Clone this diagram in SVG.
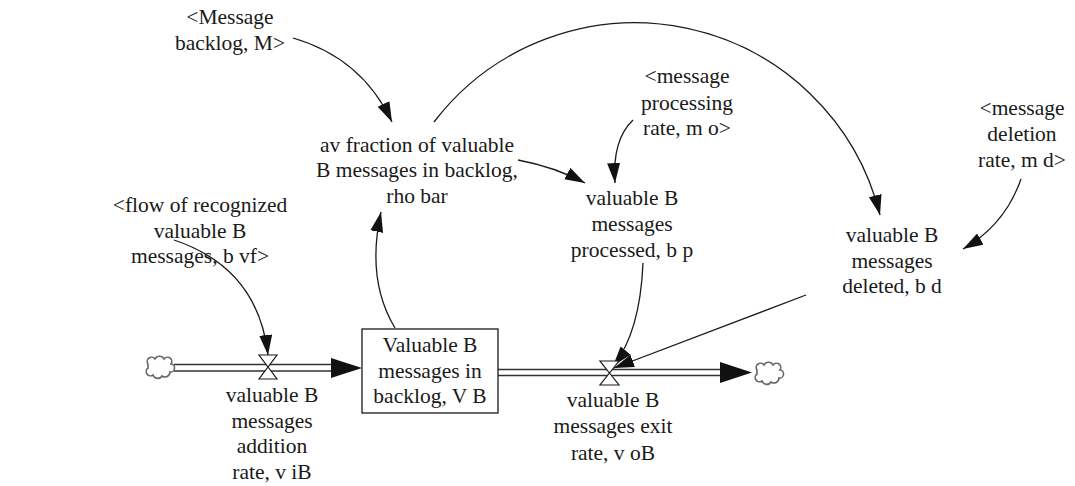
<svg xmlns="http://www.w3.org/2000/svg" width="1075" height="486" viewBox="0 0 1075 486">
  <style>
    .lbl { font-family: "Liberation Serif", "DejaVu Serif", serif; font-size: 21.5px; fill: #1a1a1a; text-anchor: middle; }
    .link { fill: none; stroke: #1a1a1a; stroke-width: 1.3; marker-end: url(#head); }
    .pipe { fill: none; stroke: #333; stroke-width: 1.6; }
    .valve { fill: #fff; stroke: #1a1a1a; stroke-width: 1.2; }
    .cloud { fill: #fff; stroke: #666; stroke-width: 1.6; }
    .stock { fill: #fff; stroke: #1a1a1a; stroke-width: 1.3; }
    .tip { fill: #111; }
  </style>
  <defs>
    <marker id="head" markerUnits="userSpaceOnUse" markerWidth="21" markerHeight="14" refX="20" refY="6.5" orient="auto">
      <path d="M0,0 L20,6.5 L0,13 z" fill="#111"/>
    </marker>
    <path id="cloudShape" d="M-11,-4 a4,4 0 0 1 7,-5 a5,5 0 0 1 9,0 a4,4 0 0 1 7,5 a4,4 0 0 1 -1,8 a5,5 0 0 1 -8,4 a5,5 0 0 1 -9,-1 a4,4 0 0 1 -5,-7 z"/>
  </defs>

  <rect width="1075" height="486" fill="#fff"/>

  <!-- flow pipes -->
  <g id="pipes">
    <line class="pipe" x1="174" y1="364.5" x2="340" y2="364.5"/>
    <line class="pipe" x1="174" y1="371" x2="340" y2="371"/>
    <path class="tip" d="M331,358 L362,368 L331,378 z"/>
    <line class="pipe" x1="498" y1="369.5" x2="728" y2="369.5"/>
    <line class="pipe" x1="498" y1="375.5" x2="728" y2="375.5"/>
    <path class="tip" d="M720,362 L752,372.5 L720,383 z"/>
  </g>

  <!-- connectors -->
  <g id="connectors">
    <path class="link" d="M293,38 Q362,58 392,122"/>
    <path class="link" d="M434,122 A252.7,252.7 0 0 1 880,215"/>
    <path class="link" d="M518,160 Q555,167 585,183"/>
    <path class="link" d="M633,120 Q612,140 615,183"/>
    <path class="link" d="M1021,179 Q1005,225 963,249"/>
    <path class="link" d="M806,295 L614,368"/>
    <path class="link" d="M643,263 Q640,333 613,366"/>
    <path class="link" d="M395,328 Q366,280 381,212"/>
    <path class="link" d="M174,240 Q258,268 268,355"/>
  </g>

  <!-- sources and sinks -->
  <g id="cloud-in"><use href="#cloudShape" class="cloud" transform="translate(159,368)"/></g>
  <g id="cloud-out"><use href="#cloudShape" class="cloud" transform="translate(768,374)"/></g>

  <g class="lbl" font-family="Liberation Serif, DejaVu Serif, serif">
    <!-- stock -->
    <g id="stock-vb">
      <rect class="stock" x="362" y="329" width="136" height="84"/>
      <text x="430" y="352">Valuable B</text>
      <text x="430" y="378">messages in</text>
      <text x="430" y="403">backlog, V B</text>
    </g>

    <!-- inflow -->
    <g id="flow-addition">
      <path class="valve" d="M259,355 L277,355 L268,367 z M268,367 L277,379 L259,379 z"/>
      <text x="272" y="402">valuable B</text>
      <text x="272" y="428">messages</text>
      <text x="272" y="453">addition</text>
      <text x="272" y="479">rate, v iB</text>
    </g>

    <!-- outflow -->
    <g id="flow-exit">
      <path class="valve" d="M600,361 L619,361 L609.5,373 z M609.5,373 L619,385 L600,385 z"/>
      <text x="613" y="407">valuable B</text>
      <text x="613" y="433">messages exit</text>
      <text x="613" y="460">rate, v oB</text>
    </g>

    <!-- auxiliaries -->
    <g id="aux-message-backlog">
      <text x="230" y="24">&lt;Message</text>
      <text x="230" y="50">backlog, M&gt;</text>
    </g>

    <g id="aux-rho-bar">
      <text x="417" y="152">av fraction of valuable</text>
      <text x="417" y="177">B messages in backlog,</text>
      <text x="417" y="203">rho bar</text>
    </g>

    <g id="aux-processing-rate">
      <text x="687" y="83">&lt;message</text>
      <text x="687" y="110">processing</text>
      <text x="687" y="135">rate, m o&gt;</text>
    </g>

    <g id="aux-processed">
      <text x="632" y="205">valuable B</text>
      <text x="632" y="231">messages</text>
      <text x="632" y="257">processed, b p</text>
    </g>

    <g id="aux-deletion-rate">
      <text x="1022" y="115">&lt;message</text>
      <text x="1022" y="141">deletion</text>
      <text x="1022" y="167">rate, m d&gt;</text>
    </g>

    <g id="aux-deleted">
      <text x="892" y="242">valuable B</text>
      <text x="892" y="268">messages</text>
      <text x="892" y="293">deleted, b d</text>
    </g>

    <g id="aux-recognized-flow">
      <text x="200" y="212">&lt;flow of recognized</text>
      <text x="200" y="238">valuable B</text>
      <text x="200" y="263">messages, b vf&gt;</text>
    </g>
  </g>
</svg>
